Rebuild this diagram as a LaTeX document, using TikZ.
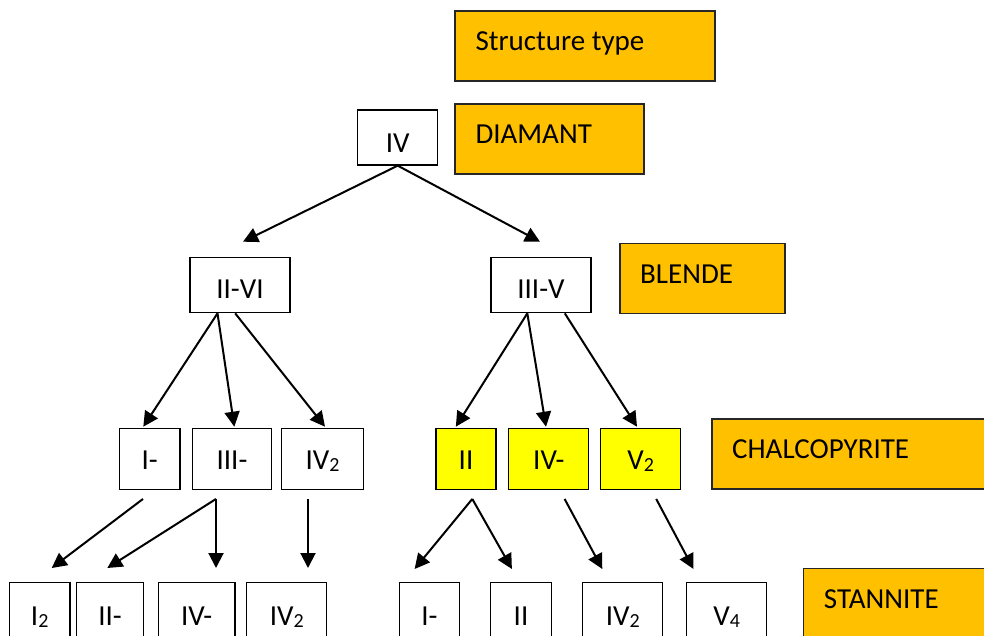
\documentclass[tikz,border=0pt]{standalone}
\usepackage{fontspec}
\setmainfont{Carlito}
\usetikzlibrary{arrows.meta,calc}
\definecolor{gold}{HTML}{FFC000}
\definecolor{yel}{HTML}{FFFF00}
\newcommand\sbs[1]{\raisebox{-2pt}{\fontsize{20}{20}\selectfont #1}}
\begin{document}
\begin{tikzpicture}[x=1pt,y=-1pt,
  font=\fontsize{29}{34}\selectfont,
  wbox/.style={draw=black, line width=1.3pt, fill=white, inner sep=0pt, text height=18.7pt, text depth=0pt},
  ybox/.style={wbox, fill=yel},
  obox/.style={draw=black!85, line width=1.5pt, fill=gold, anchor=north west, inner sep=0pt},
  olbl/.style={anchor=base west, inner sep=0pt, xshift=21pt, yshift=-40.3pt},
  arr/.style={line width=2pt, -{Triangle[length=15pt,width=15pt]}}]
\useasboundingbox (0,0) rectangle (984,635);
\clip (0,0) rectangle (984,635);
\fill[white] (0,0) rectangle (984,635);

% orange legend boxes
\node[obox, minimum width=260pt, minimum height=70pt, label={[olbl]north west:Structure type}] (st) at (454.3,10) {};
\node[obox, minimum width=189pt, minimum height=70pt, label={[olbl]north west:DIAMANT}] (dia) at (454.3,103.3) {};
\node[obox, minimum width=165pt, minimum height=70pt, label={[olbl]north west:BLENDE}] (bl) at (619,242.7) {};
\node[obox, minimum width=300pt, minimum height=70pt, label={[olbl]north west:CHALCOPYRITE}] (ch) at (711,418.3) {};
\node[obox, minimum width=220pt, minimum height=90pt, label={[olbl]north west:STANNITE}] (sn) at (802.7,567.7) {};

% level 1
\node[wbox, minimum width=80pt, minimum height=55pt, text height=29.7pt] (iv) at (397.7,137.5) {IV};
% level 2
\node[wbox, minimum width=100pt, minimum height=55pt, text height=26.3pt] (iivi) at (240,285.2) {II-VI};
\node[wbox, minimum width=100pt, minimum height=55pt, text height=26.3pt] (iiiv) at (541,285.2) {III-V};
% level 3
\node[wbox, minimum width=60.7pt, minimum height=61pt, text height=22.1pt] (a1) at (149.7,458.8) {I-};
\node[wbox, minimum width=79.4pt, minimum height=61pt, text height=22.1pt] (a2) at (232,458.8) {III-};
\node[wbox, minimum width=81.6pt, minimum height=61pt, text height=22.1pt] (a3) at (322.5,458.8) {IV\sbs{2}};
\node[ybox, minimum width=60pt, minimum height=61pt, text height=22.1pt] (b1) at (466,458.8) {II};
\node[ybox, minimum width=80pt, minimum height=61pt, text height=22.1pt] (b2) at (548.8,458.8) {IV-};
\node[ybox, minimum width=80.4pt, minimum height=61pt, text height=22.1pt] (b3) at (640.6,458.8) {V\sbs{2}};
% level 4
\node[wbox, minimum width=60.7pt, minimum height=66.6pt] (c1) at (39.7,616) {I\sbs{2}};
\node[wbox, minimum width=66.6pt, minimum height=66.6pt] (c2) at (110,616) {II-};
\node[wbox, minimum width=76.7pt, minimum height=66.6pt] (c3) at (196.7,616) {IV-};
\node[wbox, minimum width=80pt, minimum height=66.6pt] (c4) at (286.7,616) {IV\sbs{2}};
\node[wbox, minimum width=60.4pt, minimum height=66.6pt] (c5) at (429.4,616) {I-};
\node[wbox, minimum width=60.4pt, minimum height=66.6pt] (c6) at (521,616) {II};
\node[wbox, minimum width=80pt, minimum height=66.6pt] (c7) at (622.7,616) {IV\sbs{2}};
\node[wbox, minimum width=80pt, minimum height=66.6pt] (c8) at (726.6,616) {V\sbs{4}};

% arrow tips
\coordinate (t1) at (243,241.7);
\coordinate (t2) at (540,241.7);
\coordinate (t3) at (143.3,426.7);
\coordinate (t4) at (234.3,426.7);
\coordinate (t5) at (325,426.7);
\coordinate (t6) at (455.8,426.7);
\coordinate (t7) at (546,426.7);
\coordinate (t8) at (637,426.7);
\coordinate (t9) at (51.7,568);
\coordinate (t10) at (107.3,568);
\coordinate (t11) at (216,568);
\coordinate (t12) at (308,568);
\coordinate (t13) at (414.6,569);
\coordinate (t14) at (511.9,569);
\coordinate (t15) at (602.3,569);
\coordinate (t16) at (693.5,569);

\draw[arr] (iv.south) -- (t1);
\draw[arr] (iv.south) -- (t2);
\draw[arr] ($(iivi.south)+(-22.5,0)$) -- (t3);
\draw[arr] ($(iivi.south)+(-22.5,0)$) -- (t4);
\draw[arr] ($(iivi.south)+(-4.8,0)$) -- (t5);
\draw[arr] ($(iiiv.south)+(-13.7,0)$) -- (t6);
\draw[arr] ($(iiiv.south)+(-13.7,0)$) -- (t7);
\draw[arr] ($(iiiv.south)+(23.8,0)$) -- (t8);
\draw[arr] ($(a1.south)+(-6.7,9)$) -- (t9);
\draw[arr] ($(a2.south)+(-16,9)$) -- (t10);
\draw[arr] ($(a2.south)+(-16,9)$) -- (t11);
\draw[arr] ($(a3.south)+(-14.5,9)$) -- (t12);
\draw[arr] ($(b1.south)+(6.3,9)$) -- (t13);
\draw[arr] ($(b1.south)+(6.3,9)$) -- (t14);
\draw[arr] ($(b2.south)+(15.8,9)$) -- (t15);
\draw[arr] ($(b3.south)+(15.6,9)$) -- (t16);
\end{tikzpicture}
\end{document}
